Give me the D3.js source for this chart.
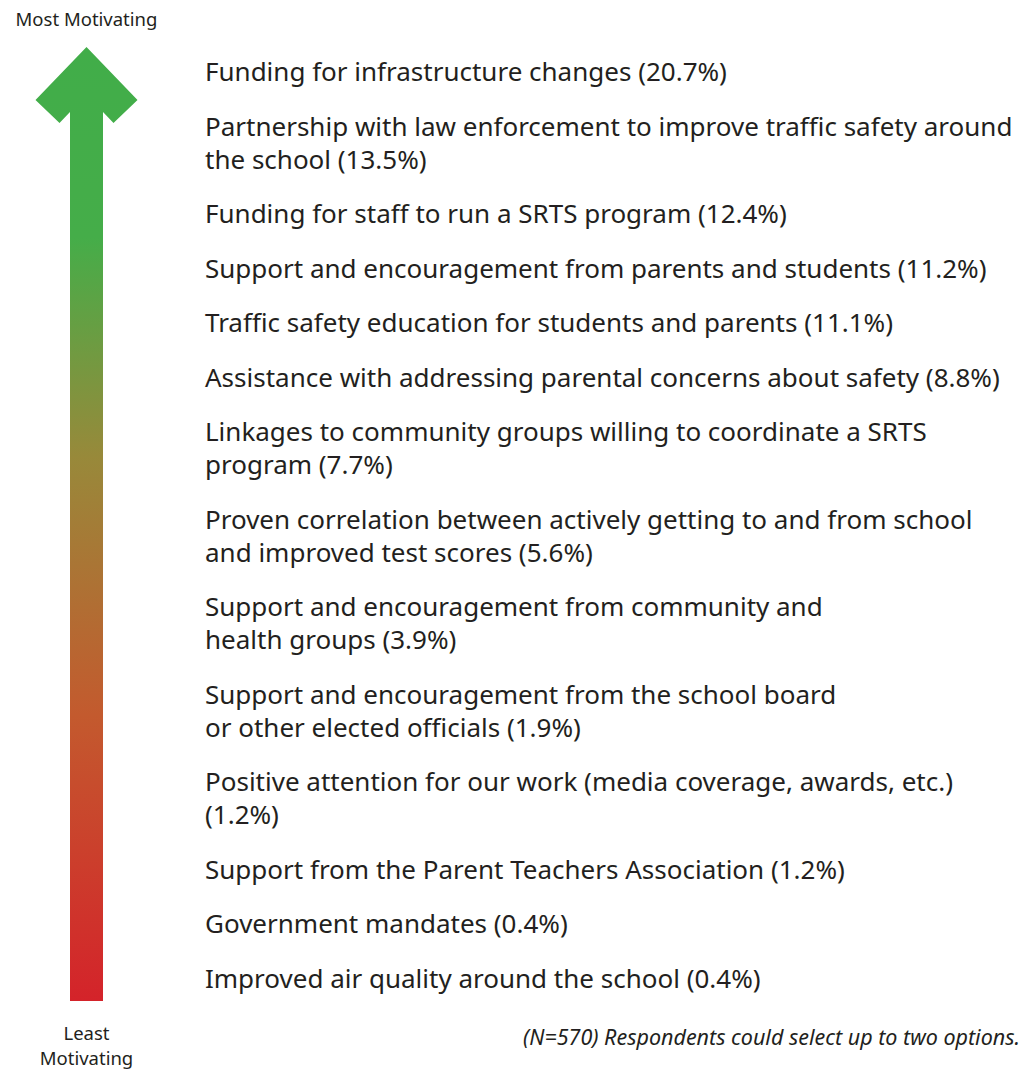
<!DOCTYPE html>
<html>
<head>
<meta charset="utf-8">
<script src="https://cdn.jsdelivr.net/npm/d3@7"></script>
<style>
  body { margin: 0; background: #fff; }
  svg text { font-family: "Noto Sans", "Open Sans", sans-serif; fill: #231f20; }
</style>
</head>
<body>
<div id="chart"></div>
<script>
// motivators, most to least motivating; "|" marks a line break
const labels = [
  'Funding for infrastructure changes',
  'Partnership with law enforcement to improve traffic safety around|the school',
  'Funding for staff to run a SRTS program',
  'Support and encouragement from parents and students',
  'Traffic safety education for students and parents',
  'Assistance with addressing parental concerns about safety',
  'Linkages to community groups willing to coordinate a SRTS|program',
  'Proven correlation between actively getting to and from school|and improved test scores',
  'Support and encouragement from community and|health groups',
  'Support and encouragement from the school board|or other elected officials',
  'Positive attention for our work (media coverage, awards, etc.)|',
  'Support from the Parent Teachers Association',
  'Government mandates',
  'Improved air quality around the school'
];
const shares = [20.7, 13.5, 12.4, 11.2, 11.1, 8.8, 7.7, 5.6, 3.9, 1.9, 1.2, 1.2, 0.4, 0.4];
const gradientStops = [
  {offset: 0, color: '#41ad49'},
  {offset: 0.2, color: '#45ad49'},
  {offset: 0.43, color: '#98893a'},
  {offset: 0.7, color: '#c35a2e'},
  {offset: 1, color: '#d4232a'}
];
const note = '(N=570) Respondents could select up to two options.';

const width = 1027, height = 1069;
const svg = d3.select('#chart').append('svg')
  .attr('width', width)
  .attr('height', height);

// turn the labels into lines of text
const items = labels.map((l, i) => {
  let lines = l.split('|');
  let last = lines.length - 1;
  let pct = '(' + shares[i].toFixed(1) + '%)';
  lines[last] = lines[last] === '' ? pct : lines[last] + ' ' + pct;
  return lines;
});

// vertical layout: gap between items and between wrapped lines
const firstBase = 81, itemGap = 54.5, lineGap = 33;
let y = firstBase;
const rows = [];
items.forEach((lines, i) => {
  lines.forEach((t, j) => {
    rows.push({text: t, y: y});
    if (j < lines.length - 1) y += lineGap;
  });
  y += itemGap;
});

svg.selectAll('.label')
  .data(rows)
  .enter()
  .append('text')
  .attr('class', 'label')
  .attr('x', 205)
  .attr('y', d => d.y)
  .style('font-size', '26px')
  .text(d => d.text);

// arrow with a green-to-red gradient
const arrowTop = 47, arrowBottom = 1001;
const grad = svg.append('defs').append('linearGradient')
  .attr('id', 'arrowGrad')
  .attr('gradientUnits', 'userSpaceOnUse')
  .attr('x1', 0).attr('x2', 0)
  .attr('y1', arrowTop).attr('y2', arrowBottom);
grad.selectAll('stop')
  .data(gradientStops)
  .enter()
  .append('stop')
  .attr('offset', d => d.offset)
  .attr('stop-color', d => d.color);

const cx = 86.5, shaftHalf = 16.5, headHalf = 51, headDrop = 53;
const p = d3.path();
p.moveTo(cx, arrowTop);
p.lineTo(cx + headHalf, arrowTop + headDrop);
p.lineTo(cx + 27, arrowTop + 76);
p.lineTo(cx + shaftHalf, arrowTop + 65);
p.lineTo(cx + shaftHalf, arrowBottom);
p.lineTo(cx - shaftHalf, arrowBottom);
p.lineTo(cx - shaftHalf, arrowTop + 65);
p.lineTo(cx - 27, arrowTop + 76);
p.lineTo(cx - headHalf, arrowTop + headDrop);
p.closePath();
svg.append('path')
  .attr('d', p.toString())
  .attr('fill', 'url(#arrowGrad)');

svg.append('text')
  .attr('x', cx).attr('y', 26)
  .attr('text-anchor', 'middle')
  .style('font-size', '18.5px')
  .text('Most Motivating');

svg.append('text')
  .attr('x', cx).attr('y', 1040)
  .attr('text-anchor', 'middle')
  .style('font-size', '18.5px')
  .selectAll('tspan')
  .data(['Least', 'Motivating'])
  .enter()
  .append('tspan')
  .attr('x', cx)
  .attr('dy', (d, i) => i ? 25 : 0)
  .text(d => d);

svg.append('text')
  .attr('x', 1020).attr('y', 1045)
  .attr('text-anchor', 'end')
  .style('font-size', '21.5px')
  .style('font-style', 'italic')
  .text(note);
</script>
</body>
</html>
